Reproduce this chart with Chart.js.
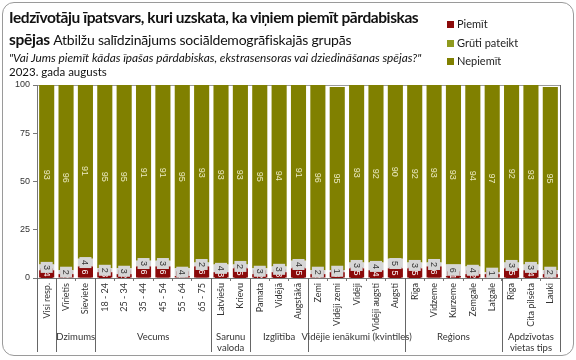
<!DOCTYPE html>
<html>
<head>
<meta charset="utf-8">
<script src="https://cdn.jsdelivr.net/npm/chart.js@4.4.0/dist/chart.umd.min.js"></script>
<style>
  body { margin: 0; background: #fff; }
  #wrap { position: relative; width: 576px; height: 360px; overflow: hidden; }
  #frame { position: absolute; left: 2px; top: 2px; width: 570px; height: 352px;
           border: 1px solid #9a9a9a; border-radius: 12px; pointer-events: none; }
  .t { position: absolute; left: 9px; white-space: nowrap; font-family: Lato, sans-serif; color: #111; }
  #l1 { top: 8px; font-size: 15.5px; font-weight: bold; letter-spacing: -0.42px; }
  #l2 { top: 30px; font-size: 15.5px; font-weight: bold; letter-spacing: -0.3px; }
  #l2 span { font-weight: normal; font-size: 14px; letter-spacing: -0.2px; }
  #l3 { top: 50px; font-size: 11.8px; font-style: italic; }
  #l4 { top: 65px; font-size: 11.5px; }
  #legend { position: absolute; left: 447px; top: 16px; font-family: Lato, sans-serif; font-size: 11px; color: #222; }
  #legend div { height: 18.7px; line-height: 16px; }
  #legend i { display: inline-block; width: 7px; height: 7px; margin-right: 3px; vertical-align: 0px; }
  canvas { position: absolute; left: 0; top: 0; }
</style>
</head>
<body>
<div id="wrap">
  <canvas id="chart" width="576" height="360"></canvas>
  <div class="t" id="l1">Iedzīvotāju īpatsvars, kuri uzskata, ka viņiem piemīt pārdabiskas</div>
  <div class="t" id="l2">spējas <span>Atbilžu salīdzinājums sociāldemogrāfiskajās grupās</span></div>
  <div class="t" id="l3">"Vai Jums piemīt kādas īpašas pārdabiskas, ekstrasensoras vai dziedināšanas spējas?"</div>
  <div class="t" id="l4">2023. gada augusts</div>
  <div id="legend"></div>
  <div id="frame"></div>
</div>
<script>
// categories and groups
var categories = ['Visi resp.', 'Vīrietis', 'Sieviete', '18 - 24', '25 - 34', '35 - 44', '45 - 54', '55 - 64', '65 - 75',
    'Latviešu', 'Krievu', 'Pamata', 'Vidējā', 'Augstākā', 'Zemi', 'Vidēji zemi', 'Vidēji', 'Vidēji augsti', 'Augsti',
    'Rīga', 'Vidzeme', 'Kurzeme', 'Zemgale', 'Latgale', 'Rīga', 'Cita pilsēta', 'Lauki'];
var groupNames = [[''], ['Dzimums'], ['Vecums'], ['Sarunu', 'valoda'], ['Izglītība'],
    ['Vidējie ienākumi (kvintiles)'], ['Reģions'], ['Apdzīvotas', 'vietas tips']];
var groupSizes = [1, 2, 6, 2, 3, 5, 5, 3];

// series values (%)
var piemit   = [4, 2, 6, 3, 2, 6, 6, 1, 6, 3, 5, 2, 3, 5, 2, 3, 5, 4, 5, 5, 6, 1, 2, 2, 5, 4, 2];
var gruti    = [3, 2, 4, 2, 3, 3, 3, 4, 2, 4, 2, 3, 3, 4, 2, 1, 3, 4, 5, 3, 2, 6, 4, 1, 3, 3, 2];
var nepiemit = [93, 96, 91, 95, 95, 91, 91, 95, 93, 93, 93, 95, 94, 91, 96, 95, 93, 92, 90, 92, 93, 93, 94, 97, 92, 93, 95];

var yTicks = [0, 25, 50, 75, 100];

var seriesNames = ['Piemīt', 'Grūti pateikt', 'Nepiemīt'];
var barColors = ['#8b0a0a', '#d6d6d6', '#808000'];
var legendColors = ['#8b0a0a', '#8f9a1e', '#808000'];

// html legend
var legendEl = document.getElementById('legend');
seriesNames.forEach(function (name, i) {
    var row = document.createElement('div');
    row.innerHTML = '<i style="background:' + legendColors[i] + '"></i>' + name;
    legendEl.appendChild(row);
});

// value labels drawn on the bars, series order like Excel
var barLabels = {
    id: 'barLabels',
    afterDatasetsDraw: function (chart) {
        var ctx = chart.ctx;
        var area = chart.chartArea;
        ctx.save();
        ctx.beginPath();
        ctx.rect(area.left, area.top, area.right - area.left, area.bottom - area.top);
        ctx.clip();
        ctx.textAlign = 'center';
        ctx.textBaseline = 'middle';
        chart.data.datasets.forEach(function (ds, d) {
            var meta = chart.getDatasetMeta(d);
            meta.data.forEach(function (bar, i) {
                var cy = (bar.y + bar.base) / 2;
                if (d < 2) {
                    ctx.fillStyle = d === 0 ? '#8b0a0a' : '#d6d6d6';
                    ctx.fillRect(bar.x - 6, cy - 5.5, 12, 11);
                }
                ctx.save();
                ctx.translate(bar.x, cy);
                ctx.rotate(Math.PI / 2);
                ctx.font = '9px "Liberation Sans", Arial, sans-serif';
                ctx.fillStyle = d === 0 ? '#ffffff' : (d === 1 ? '#333333' : '#ecebc4');
                ctx.fillText(String(ds.data[i]), 0, 0.5);
                ctx.restore();
            });
        });
        ctx.restore();
    }
};

// group captions and separators under the category axis
var groupAxis = {
    id: 'groupAxis',
    afterDraw: function (chart) {
        var ctx = chart.ctx;
        var x = chart.scales.x;
        var area = chart.chartArea;
        var step = x.getPixelForValue(1) - x.getPixelForValue(0);
        ctx.save();
        ctx.strokeStyle = '#666';
        ctx.lineWidth = 1;
        // right border of plot area
        ctx.beginPath();
        ctx.moveTo(Math.round(area.right) + 0.5, area.top);
        ctx.lineTo(Math.round(area.right) + 0.5, area.bottom);
        ctx.stroke();
        var start = 0;
        ctx.font = '9.5px Lato, sans-serif';
        ctx.fillStyle = '#333';
        ctx.textAlign = 'center';
        ctx.textBaseline = 'middle';
        for (var g = 0; g <= groupSizes.length; g++) {
            var edge = Math.round(x.getPixelForValue(start) - step / 2) + 0.5;
            ctx.beginPath();
            ctx.moveTo(edge, area.bottom);
            ctx.lineTo(edge, 352);
            ctx.stroke();
            if (g === groupSizes.length) break;
            var end = start + groupSizes[g] - 1;
            var cx = (x.getPixelForValue(start) + x.getPixelForValue(end)) / 2;
            groupNames[g].forEach(function (line, k) {
                ctx.fillText(line, cx, 337 + k * 11);
            });
            start = end + 1;
        }
        ctx.restore();
    }
};

new Chart(document.getElementById('chart'), {
    type: 'bar',
    data: {
        labels: categories,
        datasets: [
            { label: seriesNames[0], data: piemit, backgroundColor: barColors[0] },
            { label: seriesNames[1], data: gruti, backgroundColor: barColors[1] },
            { label: seriesNames[2], data: nepiemit, backgroundColor: barColors[2] }
        ]
    },
    options: {
        responsive: false,
        animation: false,
        layout: { padding: { top: 85, right: 16, left: 0, bottom: 0 } },
        datasets: { bar: { barPercentage: 0.78, categoryPercentage: 1 } },
        plugins: { legend: { display: false }, tooltip: { enabled: false } },
        scales: {
            x: {
                stacked: true,
                afterFit: function (scale) { scale.height = 82; },
                grid: { offset: true, drawOnChartArea: false, tickLength: 3, color: '#777' },
                border: { color: '#777' },
                ticks: {
                    autoSkip: false, maxRotation: 90, minRotation: 90, padding: 2,
                    color: '#333', font: { family: 'Lato, sans-serif', size: 9 }
                }
            },
            y: {
                stacked: true,
                min: 0, max: 100,
                afterFit: function (scale) { scale.width = 37; },
                afterBuildTicks: function (scale) {
                    scale.ticks = yTicks.map(function (v) { return { value: v }; });
                },
                grid: {
                    tickLength: 4,
                    color: function (c) { return c.tick && c.tick.value === 100 ? '#9a9a9a' : 'rgba(0,0,0,0)'; },
                    tickColor: '#777'
                },
                border: { color: '#777' },
                ticks: { padding: 3, color: '#333', font: { family: '"Liberation Sans", Arial, sans-serif', size: 9 } }
            }
        }
    },
    plugins: [barLabels, groupAxis]
});
</script>
</body>
</html>
